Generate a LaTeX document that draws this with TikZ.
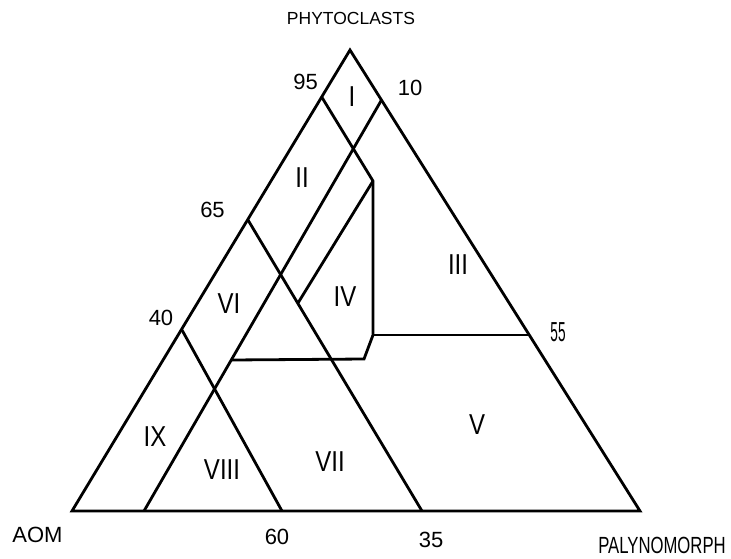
\documentclass[tikz,border=0pt]{standalone}
\usepackage{fontspec}
\setmainfont{Liberation Sans}
\usetikzlibrary{calc}
\tikzset{
  edge/.style={line width=2.8pt, line join=miter, line cap=butt},
  roman/.style={inner sep=0pt, font=\fontsize{24}{28}\selectfont, yscale=1.2},
  value/.style={inner sep=0pt, font=\fontsize{22}{26}\selectfont},
  pole/.style={inner sep=0pt}
}
\begin{document}
\begin{tikzpicture}[x=1pt, y=-1pt]
  \useasboundingbox (0,0) rectangle (731,558);
  % corners of the ternary diagram
  \coordinate (A) at (350,50);
  \coordinate (L) at (72,511);
  \coordinate (R) at (640,511);
  % ticks on the sides
  \coordinate (p95) at (321.7,97);
  \coordinate (p10) at (381.5,100);
  \coordinate (p65) at (248,220);
  \coordinate (p40) at (182,330);
  \coordinate (p55) at (529,335);
  \coordinate (b1) at (144,511);
  \coordinate (b60) at (282,511);
  \coordinate (b35) at (422,511);
  % corners of field IV
  \coordinate (q) at (373,181);
  \coordinate (qb) at (373,335);
  \coordinate (qc) at (364,359);
  \coordinate (ql) at (231,360);
  \coordinate (qd) at (298,303);

  % outline
  \draw[edge] (A) -- (L) -- (R) -- cycle;
  % field boundaries
  \draw[edge] (p10) -- (b1);
  \draw[edge] (p65) -- (b35);
  \draw[edge] (p40) -- (b60);
  \draw[edge] (p95) -- (q) -- (qb) -- (qc) -- (ql);
  \draw[edge] (q) -- (qd);
  \draw[edge] (qb) -- (p55);

  % pole names
  \node[pole, font=\fontsize{17.5}{20}\selectfont] (nP) at (351,18) {PHYTOCLASTS};
  \node[pole, font=\fontsize{22}{26}\selectfont] (nA) at (37.5,535) {AOM};
  \node[pole, font=\fontsize{16.7}{20}\selectfont, yscale=1.4] (nN) at (662,545) {PALYNOMORPH};

  % scale values
  \node[value] (v95) at (305.5,82) {95};
  \node[value] (v10) at (410,87.5) {10};
  \node[value] (v65) at (212.5,210) {65};
  \node[value] (v40) at (161,318) {40};
  \node[value] (v60) at (277,537) {60};
  \node[value] (v35) at (431,540) {35};
  \node[value, xscale=0.62, yscale=1.25] (v55) at (558,332) {55};

  % field numbers
  \node[roman] (fI) at (352,97) {I};
  \node[roman] (fII) at (302,178) {II};
  \node[roman] (fIII) at (458,265) {III};
  \node[roman] (fIV) at (345,297) {IV};
  \node[roman] (fV) at (477,425) {V};
  \node[roman] (fVI) at (229,304) {VI};
  \node[roman] (fVII) at (330,462) {VII};
  \node[roman] (fVIII) at (222,470) {VIII};
  \node[roman] (fIX) at (155,437) {IX};
\end{tikzpicture}
\end{document}
